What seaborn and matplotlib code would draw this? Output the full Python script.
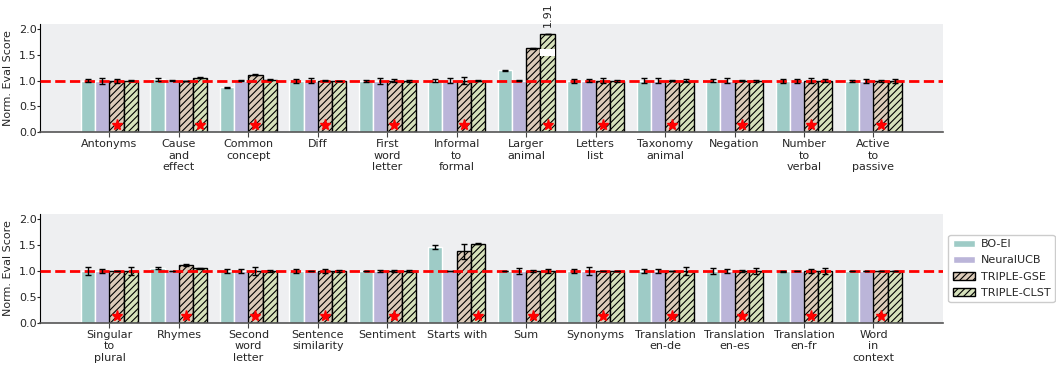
import numpy as np
import pandas as pd
import matplotlib
matplotlib.use("Agg")
import matplotlib.pyplot as plt
from matplotlib.patches import Patch, Rectangle
import seaborn as sns

methods = ["BO-EI", "NeuralUCB", "TRIPLE-GSE", "TRIPLE-CLST"]
colors = ["#9ecbc6", "#bbb5d9", "#dccbb9", "#d6e1bb"]

# ---- upper panel ----
tasks_top = ["Antonyms", "Cause\nand\neffect", "Common\nconcept", "Diff",
             "First\nword\nletter", "Informal\nto\nformal", "Larger\nanimal",
             "Letters\nlist", "Taxonomy\nanimal", "Negation", "Number\nto\nverbal",
             "Active\nto\npassive"]
bo_top = [1.00, 1.03, 0.87, 1.00, 1.00, 1.00, 1.20, 1.00, 1.00, 1.00, 1.00, 1.00]
nucb_top = [1.00, 1.00, 1.00, 1.00, 1.00, 1.00, 1.00, 1.00, 1.00, 1.00, 1.00, 1.00]
gse_top = [1.00, 1.00, 1.12, 1.00, 1.00, 1.00, 1.63, 1.00, 1.00, 1.00, 1.00, 1.00]
clst_top = [1.00, 1.06, 1.02, 1.00, 1.00, 1.00, 1.91, 1.00, 1.00, 1.00, 1.00, 1.00]
bo_top_err = [0.03, 0.03, 0.015, 0.04, 0.02, 0.03, 0.005, 0.04, 0.05, 0.03, 0.04, 0.02]
nucb_top_err = [0.06, 0.005, 0.005, 0.05, 0.06, 0.05, 0.005, 0.03, 0.05, 0.05, 0.04, 0.04]
gse_top_err = [0.04, 0.0, 0.005, 0.005, 0.03, 0.07, 0.005, 0.05, 0.005, 0.005, 0.05, 0.02]
clst_top_err = [0.01, 0.005, 0.005, 0.0, 0.02, 0.005, 0.005, 0.02, 0.03, 0.02, 0.03, 0.04]
best_top = [2, 3, 2, 2, 2, 2, 3, 2, 2, 2, 2, 2]

# ---- lower panel ----
tasks_bot = ["Singular\nto\nplural", "Rhymes", "Second\nword\nletter",
             "Sentence\nsimilarity", "Sentiment", "Starts with", "Sum", "Synonyms",
             "Translation\nen-de", "Translation\nen-es", "Translation\nen-fr",
             "Word\nin\ncontext"]
bo_bot = [1.00, 1.06, 1.00, 1.00, 1.00, 1.46, 1.00, 1.00, 1.00, 1.00, 1.00, 1.00]
nucb_bot = [1.00, 1.00, 1.00, 1.00, 1.00, 1.00, 1.00, 1.00, 1.00, 1.00, 1.00, 1.00]
gse_bot = [1.00, 1.11, 1.00, 1.00, 1.00, 1.38, 1.00, 1.00, 1.00, 1.00, 1.00, 1.00]
clst_bot = [1.00, 1.05, 1.00, 1.00, 1.00, 1.53, 1.00, 1.00, 1.00, 1.00, 1.00, 1.00]
bo_bot_err = [0.07, 0.02, 0.03, 0.03, 0.005, 0.04, 0.005, 0.04, 0.03, 0.05, 0.01, 0.005]
nucb_bot_err = [0.03, 0.005, 0.03, 0.005, 0.02, 0.0, 0.06, 0.07, 0.03, 0.04, 0.005, 0.005]
gse_bot_err = [0.0, 0.02, 0.07, 0.04, 0.02, 0.14, 0.02, 0.005, 0.005, 0.02, 0.04, 0.005]
clst_bot_err = [0.07, 0.01, 0.02, 0.02, 0.02, 0.01, 0.03, 0.005, 0.07, 0.05, 0.05, 0.005]
best_bot = [2, 2, 2, 2, 2, 3, 2, 2, 2, 2, 2, 2]

sns.set_style("white")
plt.rcParams["font.family"] = ["DejaVu Sans"]
plt.rcParams["hatch.linewidth"] = 0.8

fig = plt.figure(figsize=(10.56, 3.66), dpi=100)
ax1 = fig.add_axes([0.0379, 0.639, 0.855, 0.295])
ax2 = fig.add_axes([0.0379, 0.118, 0.855, 0.297])


def draw_panel(ax, tasks, vals, errs, best):
    rows = []
    for m, v in zip(methods, vals):
        for t, y in zip(tasks, v):
            rows.append({"task": t, "method": m, "score": y})
    df = pd.DataFrame(rows)
    sns.barplot(data=df, x="task", y="score", hue="method", order=tasks,
                hue_order=methods, palette=colors, saturation=1, errorbar=None,
                width=0.82, ax=ax, legend=False)
    ax.set_facecolor("#eeeff1")
    bar_conts = list(ax.containers)
    for k, cont in enumerate(bar_conts):
        for j, bar in enumerate(cont):
            if k >= 2:
                bar.set_hatch("/////")
                bar.set_edgecolor("black")
                bar.set_linewidth(1.0)
            else:
                bar.set_edgecolor("white")
                bar.set_linewidth(1.0)
            cx = bar.get_x() + bar.get_width() / 2
            ax.errorbar(cx, bar.get_height(), yerr=errs[k][j], fmt="none",
                        ecolor="black", elinewidth=1.0, capsize=2, capthick=1.0,
                        zorder=4)
            if best[j] == k:
                ax.plot(cx, 0.14, marker="*", color="red", markersize=8,
                        linestyle="none", zorder=5)
    ax.axhline(1.0, color="red", linestyle="--", linewidth=2, zorder=3)
    ax.set_xlim(-1, len(tasks))
    ax.set_ylim(0, 2.1)
    ax.set_yticks([0.0, 0.5, 1.0, 1.5, 2.0])
    ax.set_ylabel("Norm. Eval Score", fontsize=8, labelpad=4)
    ax.set_xlabel("")
    ax.tick_params(axis="x", labelsize=8, length=3.5, width=0.8, pad=1.5,
                   bottom=True, color="#444444")
    ax.tick_params(axis="y", labelsize=8, length=2, width=0.8, pad=0.5,
                   left=True)
    for s in ["top", "right"]:
        ax.spines[s].set_visible(False)
    ax.spines["left"].set_color("black")
    ax.spines["left"].set_linewidth(0.8)
    ax.spines["bottom"].set_color("#555555")
    ax.spines["bottom"].set_linewidth(1.2)
    return bar_conts


conts_top = draw_panel(ax1, tasks_top, [bo_top, nucb_top, gse_top, clst_top],
                       [bo_top_err, nucb_top_err, gse_top_err, clst_top_err], best_top)
draw_panel(ax2, tasks_bot, [bo_bot, nucb_bot, gse_bot, clst_bot],
           [bo_bot_err, nucb_bot_err, gse_bot_err, clst_bot_err], best_bot)

# break mark and value label on the tallest bar
tall = conts_top[3][6]
tx = tall.get_x() + tall.get_width() / 2
ax1.add_patch(Rectangle((tall.get_x() - 0.01, 1.48), tall.get_width() + 0.02, 0.13,
                        facecolor="white", edgecolor="none", zorder=6))
ax1.text(tx, clst_top[6] + 0.13, f"{clst_top[6]:.2f}", rotation=90, ha="center",
         va="bottom", fontsize=8, clip_on=False)

handles = []
for m, c in zip(methods, colors):
    if m.startswith("TRIPLE"):
        handles.append(Patch(facecolor=c, edgecolor="black", hatch="/////",
                             linewidth=1.0, label=m))
    else:
        handles.append(Patch(facecolor=c, edgecolor="white", label=m))
ax2.legend(handles=handles, loc="center left", bbox_to_anchor=(1.006, 0.5),
           fontsize=8, frameon=True, fancybox=True, framealpha=1,
           edgecolor="#cccccc", handlelength=2.0, handletextpad=0.5,
           borderpad=0.4, labelspacing=0.55, borderaxespad=0.0)

fig.savefig("out.png", dpi=100)
